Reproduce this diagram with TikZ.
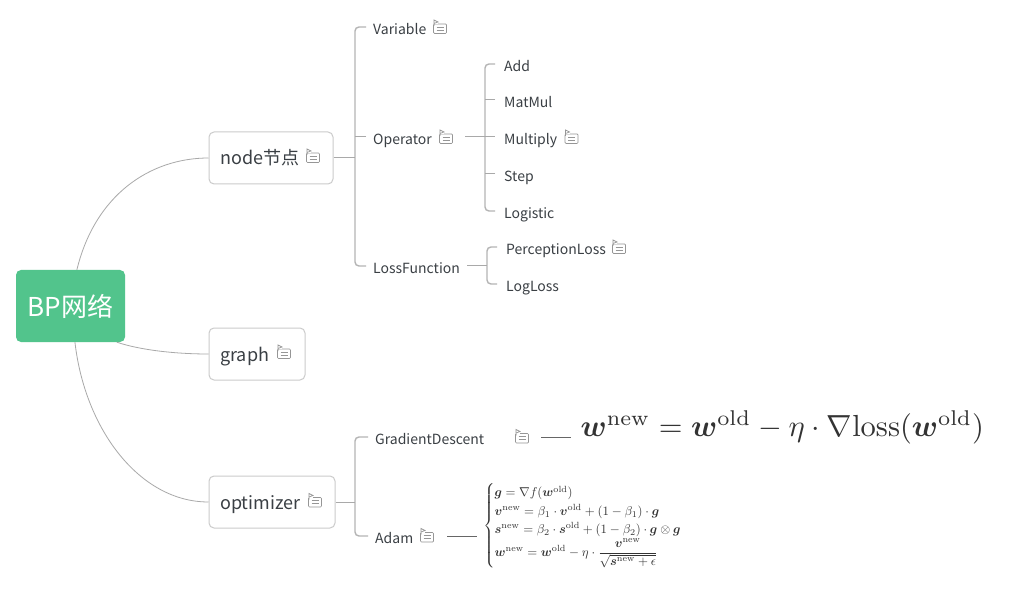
\documentclass[tikz,border=0pt]{standalone}
\usepackage[no-math]{fontspec}
\usepackage{amsmath, amssymb, bm}
\usepackage{tikz}
\newfontfamily\mapfont{Noto Sans CJK SC}
\definecolor{rootgreen}{HTML}{52C48C}
\definecolor{mapink}{HTML}{3A3F44}
\definecolor{boxline}{HTML}{CBCBCB}
\definecolor{linegray}{HTML}{A9A9A9}
\definecolor{trunkgray}{HTML}{B4B4B4}
\definecolor{icongray}{HTML}{969696}

\tikzset{
	root/.style = {fill = rootgreen, rounded corners = 5, minimum width = 109, minimum height = 72, inner sep = 0, text = white, font = \mapfont\fontsize{26}{30}\selectfont},
	topic/.style = {draw = boxline, line width = 1, fill = white, rounded corners = 5, minimum height = 52, inner sep = 0},
	topiclabel/.style = {anchor = west, inner sep = 0, text height = 18, text depth = 4, text = mapink, font = \mapfont\fontsize{18}{22}\selectfont},
	leaf/.style = {anchor = west, inner xsep = 7, inner ysep = 0, text height = 16, text depth = 1, text = mapink, font = \mapfont\fontsize{14}{18}\selectfont},
	formula/.style = {anchor = west, inner sep = 0, text = black!80},
	curve/.style = {linegray, line width = 0.8},
	branch/.style = {trunkgray, line width = 1.4},
	stub/.style = {linegray, line width = 1},
	noteicon/.pic = {
		\draw [icongray, line width = 0.7, rounded corners = 1] (-6.5,-3) rectangle (6.5,6.5);
		\draw [icongray, line width = 0.6] (-3.5,0) -- (3.5,0) (-3.5,3) -- (3.5,3);
		\fill [white] (-7,-7) rectangle (-2,-2.8);
		\draw [icongray, line width = 0.7] (-6,-1) -- (-6,-7) -- (-2,-5) -- (-6,-3.5);
	},
}

\begin{document}
\begin{tikzpicture}[x = 1pt, y = -1pt]
	\def\trunkA{355};
	\def\trunkB{485};
	\def\trunkC{487};
	
	\useasboundingbox [fill = white] (0,0) rectangle (1018,604);
	
	\node [root] (root) at (70.5,306) {BP网络};
	
	\node [topic, minimum width = 124] (nodeBox) at (271,158) {};
	\node [topic, minimum width = 96] (graphBox) at (257,354) {};
	\node [topic, minimum width = 126] (optBox) at (272,502) {};
	
	\node [topiclabel] (nodeLabel) at (220,158) {node节点};
	\node [topiclabel] (graphLabel) at (220,354) {graph};
	\node [topiclabel] (optLabel) at (220,502) {optimizer};
	
	\begin{scope}[curve]
		\draw (root.80) .. controls (95,195) and (150,158) .. (nodeBox.west);
		\draw (root.-38) .. controls (140,350) and (175,354) .. (graphBox.west);
		\draw (root.-83) .. controls (85,430) and (140,502) .. (optBox.west);
	\end{scope}
	
	% first level
	\node [leaf] (var) at (366,27) {Variable};
	\node [leaf] (op) at (366,137) {Operator};
	\node [leaf] (loss) at (366,266) {LossFunction};
	
	% operators
	\node [leaf, inner xsep = 9] (add) at (495,64) {Add};
	\node [leaf, inner xsep = 9] (matmul) at (495,100) {MatMul};
	\node [leaf, inner xsep = 9] (mul) at (495,137) {Multiply};
	\node [leaf, inner xsep = 9] (step) at (495,174) {Step};
	\node [leaf, inner xsep = 9] (logistic) at (495,211) {Logistic};
	
	% losses
	\node [leaf, inner xsep = 9] (perc) at (497,247) {PerceptionLoss};
	\node [leaf, inner xsep = 9] (logloss) at (497,284) {LogLoss};
	
	% optimizers
	\node [leaf] (grad) at (368,437) {GradientDescent};
	\node [leaf] (adam) at (368,536) {Adam};
	
	\coordinate (opOut) at (465,137);
	\coordinate (lossOut) at (467,266);
	\coordinate (gradOut) at (541,437);
	\coordinate (gradEnd) at (571,437);
	\coordinate (adamOut) at (447,536);
	\coordinate (adamEnd) at (477,536);
	
	\node [formula, scale = 3.05] (gradEq) at (580,427) {$\bm{w}^{\mathrm{new}} = \bm{w}^{\mathrm{old}} - \eta \cdot \nabla \mathrm{loss}(\bm{w}^{\mathrm{old}})$};
	\node [formula, scale = 1.28] (adamEq) at (483,526) {$\begin{cases}
		\bm{g} = \nabla f(\bm{w}^{\mathrm{old}}) \\
		\bm{v}^{\mathrm{new}} = \beta_1 \cdot \bm{v}^{\mathrm{old}} + (1 - \beta_1) \cdot \bm{g} \\
		\bm{s}^{\mathrm{new}} = \beta_2 \cdot \bm{s}^{\mathrm{old}} + (1 - \beta_2) \cdot \bm{g} \otimes \bm{g} \\
		\bm{w}^{\mathrm{new}} = \bm{w}^{\mathrm{old}} - \eta \cdot \dfrac{\bm{v}^{\mathrm{new}}}{\sqrt{\bm{s}^{\mathrm{new}} + \epsilon}}
	\end{cases}$};
	
	\begin{scope}[branch, rounded corners = 4]
		\draw (var.west) -| (\trunkA,137) |- (loss.west);
		\draw (add.west) -| (\trunkB,137) |- (logistic.west);
		\draw (perc.west) -| (\trunkC,266) |- (logloss.west);
		\draw (grad.west) -| (\trunkA,501) |- (adam.west);
	\end{scope}
	
	\begin{scope}[stub]
		\draw (nodeBox.east) -- (\trunkA,158);
		\draw (optBox.east) -- (\trunkA,502);
		\draw (op.west) -- (\trunkA,137);
		\draw (opOut) -- (mul.west);
		\draw (matmul.west) -- (\trunkB,100);
		\draw (step.west) -- (\trunkB,174);
		\draw (lossOut) -- (\trunkC,266);
	\end{scope}
	
	\begin{scope}[black!60, line width = 0.8]
		\draw (gradOut) -- (gradEnd);
		\draw (adamOut) -- (adamEnd);
	\end{scope}
	
	\pic at (313,156) {noteicon};
	\pic at (284,352) {noteicon};
	\pic at (315,500.5) {noteicon};
	\pic at (440,27) {noteicon};
	\pic at (446,137) {noteicon};
	\pic at (571.5,137) {noteicon};
	\pic at (619,247) {noteicon};
	\pic at (522,436.5) {noteicon};
	\pic at (427,535.5) {noteicon};
\end{tikzpicture}
\end{document}
